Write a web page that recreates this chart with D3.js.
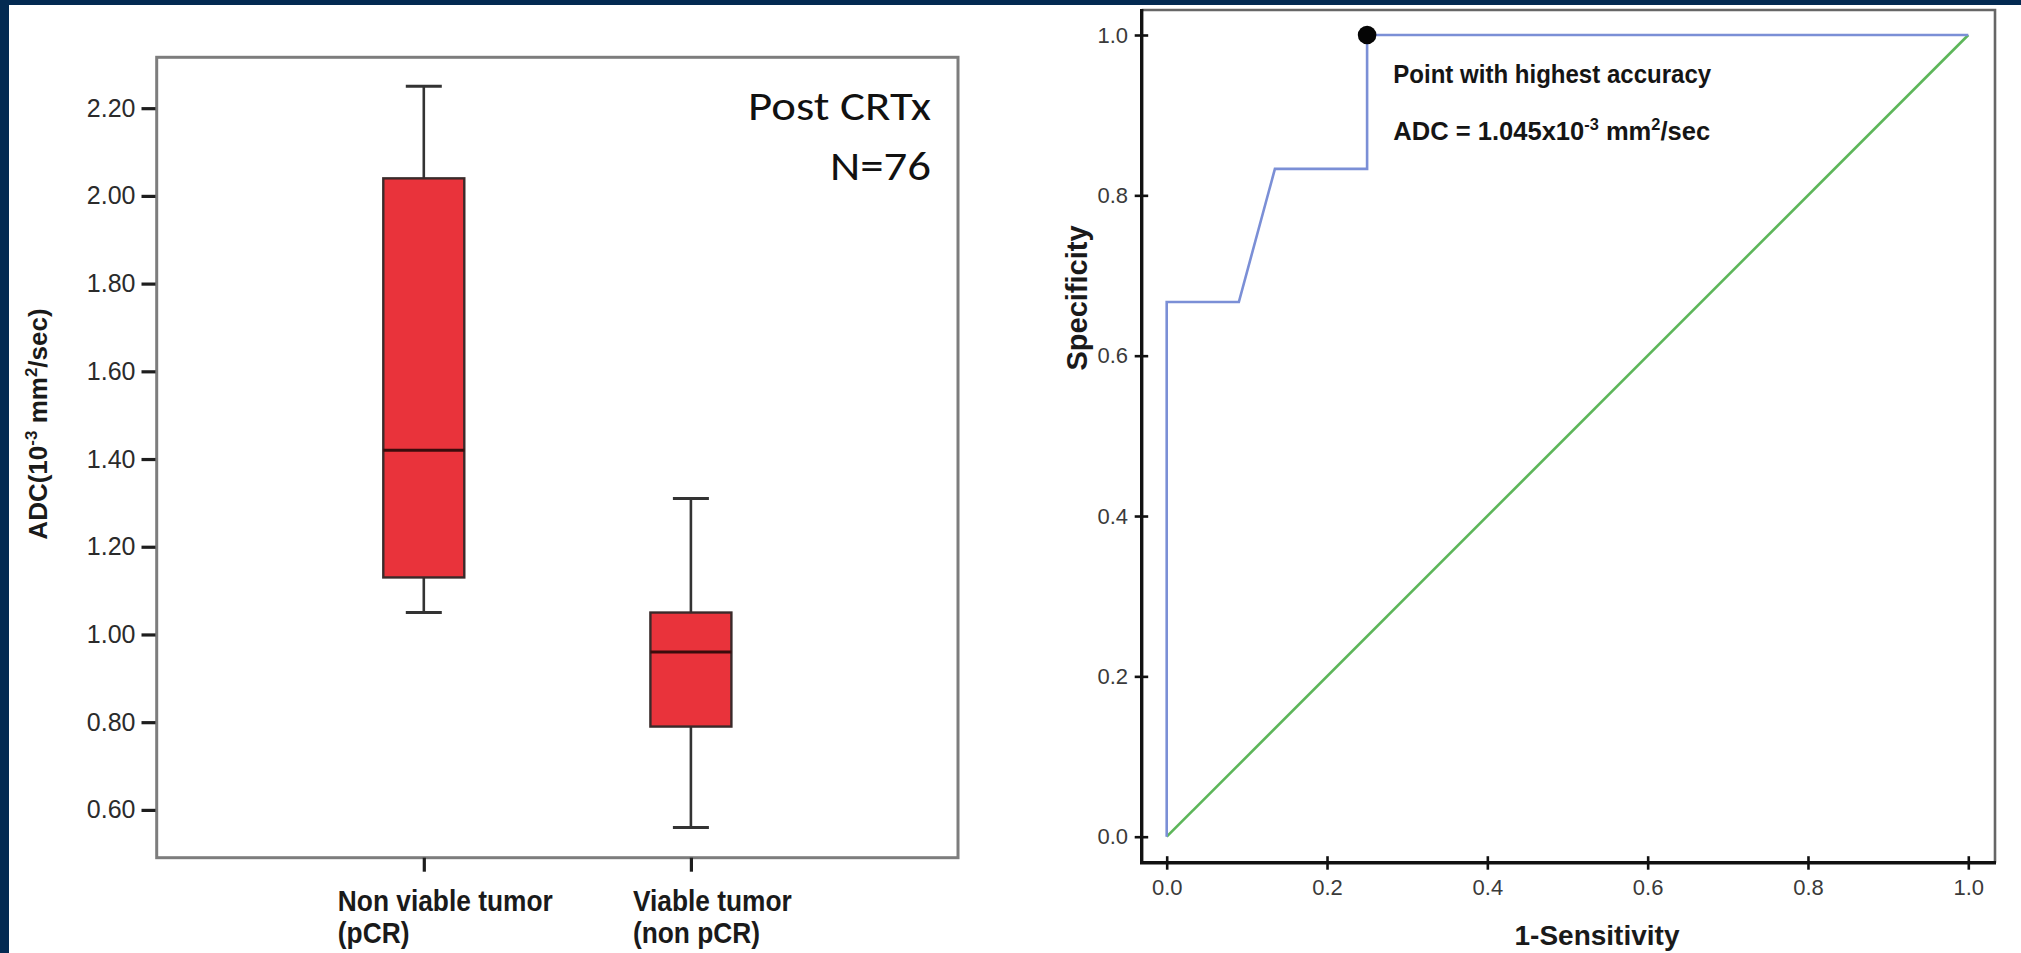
<!DOCTYPE html>
<html><head><meta charset="utf-8">
<script src="https://cdn.jsdelivr.net/npm/d3@7"></script>
<style>
html,body{margin:0;padding:0;background:#fff;overflow:hidden}
svg{display:block}
</style></head><body>
<svg id="chart" width="2021" height="953"></svg>
<script>
// ---- Box plot: ADC after chemoradiotherapy, by response group ----
const groups = ["Non viable tumor", "Viable tumor"];
const groupSub = ["(pCR)", "(non pCR)"];
const whiskerLow = [1.05, 0.56];
const q1 = [1.13, 0.79];
const median = [1.42, 0.96];
const q3 = [2.04, 1.05];
const whiskerHigh = [2.25, 1.31];
const adcTicks = [0.60, 0.80, 1.00, 1.20, 1.40, 1.60, 1.80, 2.00, 2.20];

// ---- ROC curve ----
const rocFpr  = [0, 0,     0.09,  0.135, 0.25,  0.25, 1];
const rocSpec = [0, 0.667, 0.667, 0.833, 0.833, 1,    1];
const refFpr  = [0, 1];
const refSpec = [0, 1];
const bestPoint = [0.25, 1.0];
const rocTicks = [0, 0.2, 0.4, 0.6, 0.8, 1.0];

const svg = d3.select("#chart");
const navy = "#032a52";
const sans = "'Liberation Sans', Arial, sans-serif";

svg.append("rect").attr("width", 2021).attr("height", 953).attr("fill", "#fff");
svg.append("rect").attr("width", 2021).attr("height", 5).attr("fill", navy);
svg.append("rect").attr("width", 9).attr("height", 953).attr("fill", navy);

// squeeze/stretch a text element horizontally so it spans `target` px
function fitWidth(sel, x, y, target, anchor) {
  const w = sel.node().getComputedTextLength();
  const s = target / w;
  let left = x;
  if (anchor === "middle") left = x - target / 2;
  if (anchor === "end") left = x - target;
  sel.attr("text-anchor", "start").attr("x", 0).attr("y", 0)
     .attr("transform", `translate(${left},${y}) scale(${s},1)`);
  return s;
}

// ================= left panel =================
const L = {x0: 156.7, x1: 958, y0: 57.3, y1: 857.7};
const yL = d3.scaleLinear().domain([0.491, 2.316]).range([L.y1, L.y0]);
const xL = d3.scalePoint().domain(groups).range([L.x0, L.x1]).padding(1);

const left = svg.append("g");

left.append("rect")
  .attr("x", L.x0).attr("y", L.y0)
  .attr("width", L.x1 - L.x0).attr("height", L.y1 - L.y0)
  .attr("fill", "#fff").attr("stroke", "#7d7d7d").attr("stroke-width", 3);

const yAxisL = left.append("g")
  .attr("transform", `translate(${L.x0 - 1.2},0)`)
  .call(d3.axisLeft(yL).tickValues(adcTicks).tickFormat(d3.format(".2f"))
        .tickSize(14).tickPadding(6));
yAxisL.select(".domain").remove();
yAxisL.selectAll(".tick line").attr("stroke", "#1e1e1e").attr("stroke-width", 3.2);
yAxisL.selectAll(".tick text")
  .attr("font-family", sans).attr("font-size", 25).attr("fill", "#2b2b2b");

const xAxisL = left.append("g")
  .attr("transform", `translate(0,${L.y1})`)
  .call(d3.axisBottom(xL).tickSize(14).tickFormat(""));
xAxisL.select(".domain").remove();
xAxisL.selectAll(".tick line").attr("stroke", "#1e1e1e").attr("stroke-width", 3.2);

const boxW = 81, capW = 36;
const idx = d3.range(groups.length);
const boxes = left.selectAll("g.box").data(idx).join("g").attr("class", "box");

boxes.append("line")
  .attr("x1", i => xL(groups[i])).attr("x2", i => xL(groups[i]))
  .attr("y1", i => yL(whiskerHigh[i])).attr("y2", i => yL(q3[i]))
  .attr("stroke", "#333").attr("stroke-width", 2.6);
boxes.append("line")
  .attr("x1", i => xL(groups[i])).attr("x2", i => xL(groups[i]))
  .attr("y1", i => yL(q1[i])).attr("y2", i => yL(whiskerLow[i]))
  .attr("stroke", "#333").attr("stroke-width", 2.6);
boxes.append("line")
  .attr("x1", i => xL(groups[i]) - capW / 2).attr("x2", i => xL(groups[i]) + capW / 2)
  .attr("y1", i => yL(whiskerHigh[i])).attr("y2", i => yL(whiskerHigh[i]))
  .attr("stroke", "#333").attr("stroke-width", 3);
boxes.append("line")
  .attr("x1", i => xL(groups[i]) - capW / 2).attr("x2", i => xL(groups[i]) + capW / 2)
  .attr("y1", i => yL(whiskerLow[i])).attr("y2", i => yL(whiskerLow[i]))
  .attr("stroke", "#333").attr("stroke-width", 3);
boxes.append("rect")
  .attr("x", i => xL(groups[i]) - boxW / 2)
  .attr("y", i => yL(q3[i]))
  .attr("width", boxW)
  .attr("height", i => yL(q1[i]) - yL(q3[i]))
  .attr("fill", "#e9333b").attr("stroke", "#3a2a2a").attr("stroke-width", 2.4);
boxes.append("line")
  .attr("x1", i => xL(groups[i]) - boxW / 2).attr("x2", i => xL(groups[i]) + boxW / 2)
  .attr("y1", i => yL(median[i])).attr("y2", i => yL(median[i]))
  .attr("stroke", "#3b0c0c").attr("stroke-width", 3.2);

// category labels: first line centred a little right of the tick, second line left-aligned with it
const catFont = 29;
let catScale = null;
idx.forEach(i => {
  const cx = xL(groups[i]) + 21.5;
  const t1 = left.append("text").text(groups[i])
    .attr("font-family", sans).attr("font-size", catFont).attr("font-weight", "bold")
    .attr("fill", "#1a1a1a");
  const w = t1.node().getComputedTextLength();
  if (catScale === null) catScale = 215 / w;
  const span = w * catScale;
  const lx = cx - span / 2;
  t1.attr("x", 0).attr("y", 0).attr("transform", `translate(${lx},911) scale(${catScale},1)`);
  left.append("text").text(groupSub[i])
    .attr("font-family", sans).attr("font-size", catFont).attr("font-weight", "bold")
    .attr("fill", "#1a1a1a")
    .attr("transform", `translate(${lx},943) scale(${catScale},1)`);
});

// y-axis title
const ttlL = left.append("text")
  .attr("transform", "translate(47,424) rotate(-90)")
  .attr("text-anchor", "middle")
  .attr("font-family", sans).attr("font-size", 26).attr("font-weight", "bold")
  .attr("fill", "#1a1a1a");
ttlL.append("tspan").text("ADC(10");
ttlL.append("tspan").text("-3").attr("font-size", 17).attr("dy", -10);
ttlL.append("tspan").text(" mm").attr("dy", 10);
ttlL.append("tspan").text("2").attr("font-size", 17).attr("dy", -10);
ttlL.append("tspan").text("/sec)").attr("dy", 10);

// panel annotation
const noteFont = "Carlito, Lato, 'Open Sans', sans-serif";
const note1 = left.append("text").text("Post CRTx")
  .attr("font-family", noteFont).attr("font-size", 40).attr("fill", "#111");
const noteScale = fitWidth(note1, 931, 120, 183, "end");
left.append("text").text("N=76")
  .attr("font-family", noteFont).attr("font-size", 40).attr("fill", "#111")
  .attr("text-anchor", "end")
  .attr("transform", `translate(931,180) scale(${noteScale},1)`);

// ================= right panel =================
const R = {x0: 1141.7, x1: 1995, y0: 10, y1: 862.7};
const xR = d3.scaleLinear().domain([0, 1]).range([1166.7, 1968.3]);
const yR = d3.scaleLinear().domain([0, 1]).range([836.7, 35]);

const right = svg.append("g");

// top and right border (grey), left and bottom axes (black)
right.append("path")
  .attr("d", `M${R.x0},${R.y0}H${R.x1}V${R.y1}`)
  .attr("fill", "none").attr("stroke", "#666").attr("stroke-width", 2.6);

const yAxisR = right.append("g")
  .attr("transform", `translate(${R.x0},0)`)
  .call(d3.axisLeft(yR).tickValues(rocTicks).tickFormat(d3.format(".1f"))
        .tickSize(7).tickPadding(6.7));
yAxisR.select(".domain").remove();
yAxisR.selectAll(".tick line").attr("x1", 6.5).attr("stroke", "#111").attr("stroke-width", 2.6);
yAxisR.selectAll(".tick text").attr("font-family", sans).attr("font-size", 22).attr("fill", "#3a3a3a");

const xAxisR = right.append("g")
  .attr("transform", `translate(0,${R.y1})`)
  .call(d3.axisBottom(xR).tickValues(rocTicks).tickFormat(d3.format(".1f"))
        .tickSize(7).tickPadding(9.2));
xAxisR.select(".domain").remove();
xAxisR.selectAll(".tick line").attr("y1", -6.5).attr("stroke", "#111").attr("stroke-width", 2.6);
xAxisR.selectAll(".tick text").attr("font-family", sans).attr("font-size", 22).attr("fill", "#3a3a3a");

right.append("path")
  .attr("d", `M${R.x0},${R.y0 - 1}V${R.y1}H${R.x1 + 1}`)
  .attr("fill", "none").attr("stroke", "#111").attr("stroke-width", 3.4);

// chance diagonal
const lineR = d3.line().x(d => xR(d[0])).y(d => yR(d[1]));
right.append("path")
  .attr("d", lineR(d3.zip(refFpr, refSpec)))
  .attr("fill", "none").attr("stroke", "#5db65a").attr("stroke-width", 2.6);

// ROC curve
right.append("path")
  .attr("d", lineR(d3.zip(rocFpr, rocSpec)))
  .attr("fill", "none").attr("stroke", "#7b8fd6").attr("stroke-width", 2.6)
  .attr("stroke-linejoin", "miter");

right.append("circle")
  .attr("cx", xR(bestPoint[0])).attr("cy", yR(bestPoint[1])).attr("r", 9.3)
  .attr("fill", "#050505");

const ann1 = right.append("text").text("Point with highest accuracy")
  .attr("font-family", sans).attr("font-size", 25).attr("font-weight", "bold").attr("fill", "#151515");
fitWidth(ann1, 1393.3, 83.3, 318, "start");

const ann2 = right.append("text")
  .attr("font-family", sans).attr("font-size", 25).attr("font-weight", "bold").attr("fill", "#151515");
ann2.append("tspan").text("ADC = 1.045x10");
ann2.append("tspan").text("-3").attr("font-size", 16).attr("dy", -10);
ann2.append("tspan").text(" mm").attr("dy", 10);
ann2.append("tspan").text("2").attr("font-size", 16).attr("dy", -10);
ann2.append("tspan").text("/sec").attr("dy", 10);
fitWidth(ann2, 1393.3, 140, 317, "start");

// axis titles
right.append("text").text("Specificity")
  .attr("transform", "translate(1087,298) rotate(-90)")
  .attr("text-anchor", "middle")
  .attr("font-family", sans).attr("font-size", 29).attr("font-weight", "bold").attr("fill", "#1a1a1a");

right.append("text").text("1-Sensitivity")
  .attr("x", 1597).attr("y", 945)
  .attr("text-anchor", "middle")
  .attr("font-family", sans).attr("font-size", 28).attr("font-weight", "bold").attr("fill", "#1a1a1a");
</script>
</body></html>
